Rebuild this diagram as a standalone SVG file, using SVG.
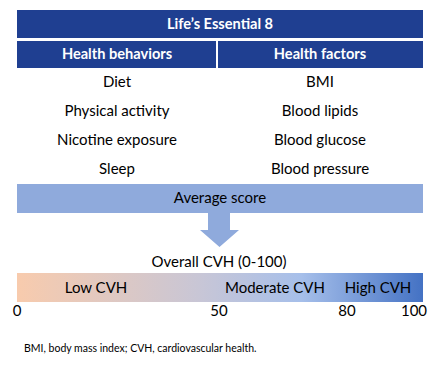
<svg xmlns="http://www.w3.org/2000/svg" width="440" height="370" viewBox="0 0 440 370">
<defs>
<linearGradient id="cvh" x1="0" y1="0" x2="1" y2="0">
<stop offset="0" stop-color="#F8CBAD"/>
<stop offset="0.45" stop-color="#C8C6D6"/>
<stop offset="0.7" stop-color="#A6BFEA"/>
<stop offset="1" stop-color="#4472C4"/>
</linearGradient>
<style>
text{font-family:Lato,"Liberation Sans",sans-serif;font-size:15px;fill:#000;text-anchor:middle}
.hd{font-weight:bold;fill:#fff;font-size:14.6px}
.dark{fill:#1F3F91}
.lb{fill:#8FAADC}
.fn{font-size:10.5px;text-anchor:start}
</style>
</defs>
<rect width="440" height="370" fill="#fff"/>
<g id="title"><rect class="dark" x="17" y="10" width="406" height="28"/><text class="hd" x="220" y="29">Life’s Essential 8</text></g>
<g id="behaviors"><rect class="dark" x="17" y="41" width="199" height="27"/><text class="hd" x="117" y="59">Health behaviors</text>
<text x="117" y="87">Diet</text><text x="117" y="116">Physical activity</text><text x="117" y="145">Nicotine exposure</text><text x="117" y="174">Sleep</text></g>
<g id="factors"><rect class="dark" x="218" y="41" width="205" height="27"/><text class="hd" x="320" y="59">Health factors</text>
<text x="320" y="87">BMI</text><text x="320" y="116">Blood lipids</text><text x="320" y="145">Blood glucose</text><text x="320" y="174">Blood pressure</text></g>
<g id="average"><rect class="lb" x="17" y="184" width="406" height="29"/><text x="220" y="203">Average score</text></g>
<g id="connectors"><polygon class="lb" points="208,213 230,213 230,230 239,230 219.5,247 200,230 208,230"/></g>
<g id="scale"><text x="219" y="267">Overall CVH (0-100)</text>
<rect x="17" y="273" width="406" height="29" fill="url(#cvh)"/>
<text x="96" y="293">Low CVH</text><text x="275" y="293">Moderate CVH</text><text x="378" y="293">High CVH</text>
<text x="17" y="316">0</text><text x="219" y="316">50</text><text x="347" y="316">80</text><text x="414" y="316">100</text></g>
<text class="fn" x="24" y="352">BMI, body mass index; CVH, cardiovascular health.</text>
</svg>
